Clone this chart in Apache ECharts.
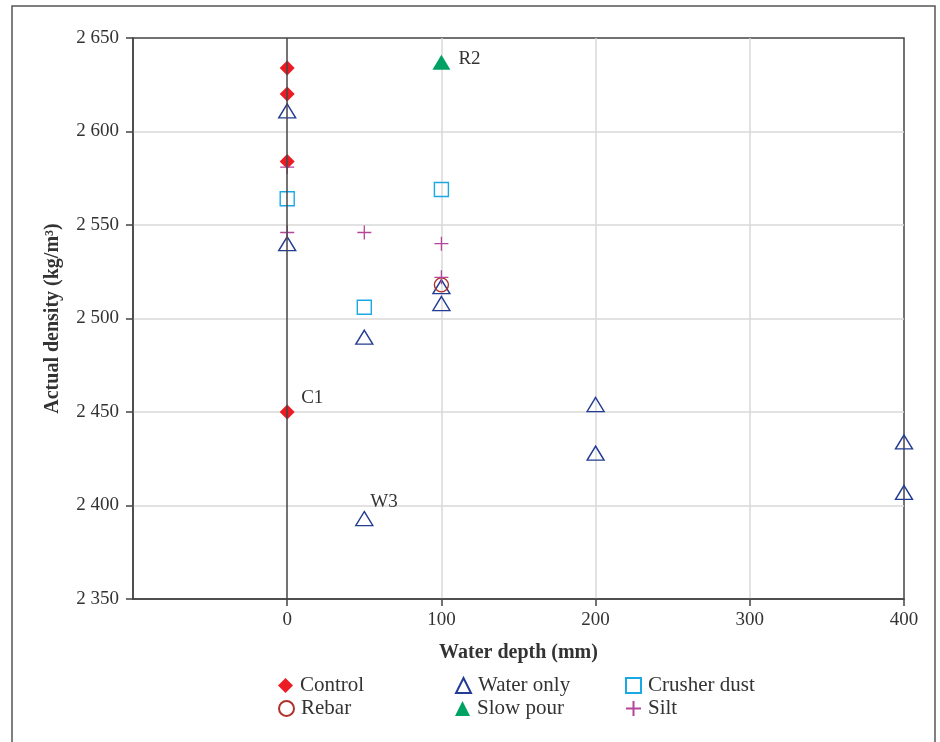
<!DOCTYPE html>
<html>
<head>
<meta charset="utf-8">
<script src="https://cdn.jsdelivr.net/npm/echarts@6/dist/echarts.min.js"></script>
<style>
  html, body { margin: 0; padding: 0; background: #fff; }
  #chart { width: 940px; height: 742px; }
</style>
</head>
<body>
<div id="chart"></div>
<script>
// Water depth (mm) on x, actual density (kg/m³) on y
const controlPts    = [[0, 2634], [0, 2620], [0, 2584], [0, 2450]];
const waterOnlyPts  = [[0, 2611], [0, 2540], [50, 2490], [50, 2393], [100, 2517],
                       [100, 2508], [200, 2454], [200, 2428], [400, 2434], [400, 2407]];
const crusherPts    = [[0, 2564], [50, 2506], [100, 2569]];
const rebarPts      = [[100, 2518]];
const slowPourPts   = [[100, 2637]];
const siltPts       = [[0, 2581], [0, 2546], [50, 2546], [100, 2540], [100, 2522]];

// Specimen tags written next to a few points
const pointTags = [
  { series: 'Control',   x: 0,   y: 2450, text: 'C1', offset: [14, -14] },
  { series: 'Water only', x: 50, y: 2393, text: 'W3', offset: [6, -17] },
  { series: 'Slow pour', x: 100, y: 2637, text: 'R2', offset: [17, -3] }
];

const xTicks = [0, 100, 200, 300, 400];
const yRange = [2350, 2650];

const FONT = '"Liberation Serif", "DejaVu Serif", serif';
const TEXT = '#333';
const AXIS = '#444';

function withTags(name, pts) {
  return pts.map(p => {
    const tag = pointTags.find(t => t.series === name && t.x === p[0] && t.y === p[1]);
    if (!tag) return p;
    return {
      value: p,
      label: {
        show: true, formatter: tag.text, position: 'inside',
        offset: tag.offset, align: 'left', verticalAlign: 'middle',
        color: TEXT, fontFamily: FONT, fontSize: 19
      }
    };
  });
}

function thousands(v) {
  return String(v).replace(/\B(?=(\d{3})+(?!\d))/g, ' ');
}

const seriesDefs = [
  { name: 'Control', pts: controlPts, symbol: 'diamond', size: [15, 15],
    itemStyle: { color: '#ec1c24', borderWidth: 0 } },
  { name: 'Water only', pts: waterOnlyPts, symbol: 'triangle', size: [17, 14],
    itemStyle: { color: 'rgba(0,0,0,0)', borderColor: '#233c94', borderWidth: 1.4 } },
  { name: 'Crusher dust', pts: crusherPts, symbol: 'rect', size: [14, 14],
    itemStyle: { color: 'rgba(0,0,0,0)', borderColor: '#1ba9e6', borderWidth: 1.4 } },
  { name: 'Rebar', pts: rebarPts, symbol: 'circle', size: 14,
    itemStyle: { color: 'rgba(0,0,0,0)', borderColor: '#b0322a', borderWidth: 1.4 } },
  { name: 'Slow pour', pts: slowPourPts, symbol: 'triangle', size: [18, 15],
    itemStyle: { color: '#00a264', borderWidth: 0 } },
  { name: 'Silt', pts: siltPts, symbol: 'path://M7,0 L7,14 M0,7 L14,7', size: [14, 14],
    itemStyle: { color: 'rgba(0,0,0,0)', borderColor: '#b5449a', borderWidth: 1.3 } }
];

const series = [{
  name: 'zero-line', type: 'scatter', data: [], z: 1, silent: true,
  markLine: {
    silent: true, symbol: ['none', 'none'], animation: false,
    label: { show: false },
    lineStyle: { color: AXIS, width: 1.5, type: 'solid', opacity: 1 },
    emphasis: { disabled: true },
    data: [{ xAxis: 0 }]
  }
}].concat(seriesDefs.map(d => ({
  name: d.name, type: 'scatter', z: 3,
  symbol: d.symbol, symbolSize: d.size,
  itemStyle: Object.assign({ opacity: 1 }, d.itemStyle),
  emphasis: { disabled: true },
  data: withTags(d.name, d.pts)
})));

// legend laid out as a 3 x 2 table
const legendCols = [278, 455, 625];
const legendRows = [675, 698];
const legendOrder = [['Control', 'Water only', 'Crusher dust'], ['Rebar', 'Slow pour', 'Silt']];
const legends = [];
legendOrder.forEach((row, r) => row.forEach((name, c) => {
  legends.push({
    data: [name], left: legendCols[c], top: legendRows[r],
    itemWidth: 15, itemHeight: 15, itemGap: 8, padding: 0,
    selectedMode: false,
    textStyle: { fontFamily: FONT, fontSize: 21, color: TEXT, padding: [0, 0, 0, 2] }
  });
}));

const chart = echarts.init(document.getElementById('chart'), null, { renderer: 'canvas' });
chart.setOption({
  animation: false,
  backgroundColor: '#fff',
  textStyle: { fontFamily: FONT },
  graphic: [{
    type: 'rect', silent: true, z: 0,
    shape: { x: 12, y: 6, width: 923, height: 760 },
    style: { fill: 'none', stroke: '#555', lineWidth: 1.5 }
  }],
  grid: {
    left: 133, right: 36, top: 38, bottom: 143,
    show: true, borderColor: AXIS, borderWidth: 1.5, backgroundColor: 'transparent'
  },
  legend: legends,
  xAxis: {
    type: 'value', min: -100, max: 400, interval: 100,
    name: 'Water depth (mm)', nameLocation: 'middle', nameGap: 44,
    nameTextStyle: { fontFamily: FONT, fontSize: 20, fontWeight: 'bold', color: TEXT },
    axisLine: { show: true, onZero: false, lineStyle: { color: AXIS, width: 1.5 } },
    axisTick: { show: true, inside: false, length: 7, customValues: xTicks,
                lineStyle: { color: AXIS, width: 1.5 } },
    axisLabel: { customValues: xTicks, margin: 12, fontFamily: FONT, fontSize: 19, color: TEXT },
    splitLine: { show: true, showMinLine: false, showMaxLine: false,
                 lineStyle: { color: '#d9d9d9', width: 1.5 } }
  },
  yAxis: {
    type: 'value', min: yRange[0], max: yRange[1], interval: 50,
    name: 'Actual density (kg/m³)', nameLocation: 'middle', nameGap: 70,
    nameTextStyle: { fontFamily: FONT, fontSize: 20, fontWeight: 'bold', color: TEXT },
    axisLine: { show: true, onZero: false, lineStyle: { color: AXIS, width: 1.5 } },
    axisTick: { show: true, inside: false, length: 7, lineStyle: { color: AXIS, width: 1.5 } },
    axisLabel: { margin: 14, fontFamily: FONT, fontSize: 19, color: TEXT, formatter: thousands },
    splitLine: { show: true, showMinLine: false, showMaxLine: false,
                 lineStyle: { color: '#d9d9d9', width: 1.5 } }
  },
  series: series
});
</script>
</body>
</html>
